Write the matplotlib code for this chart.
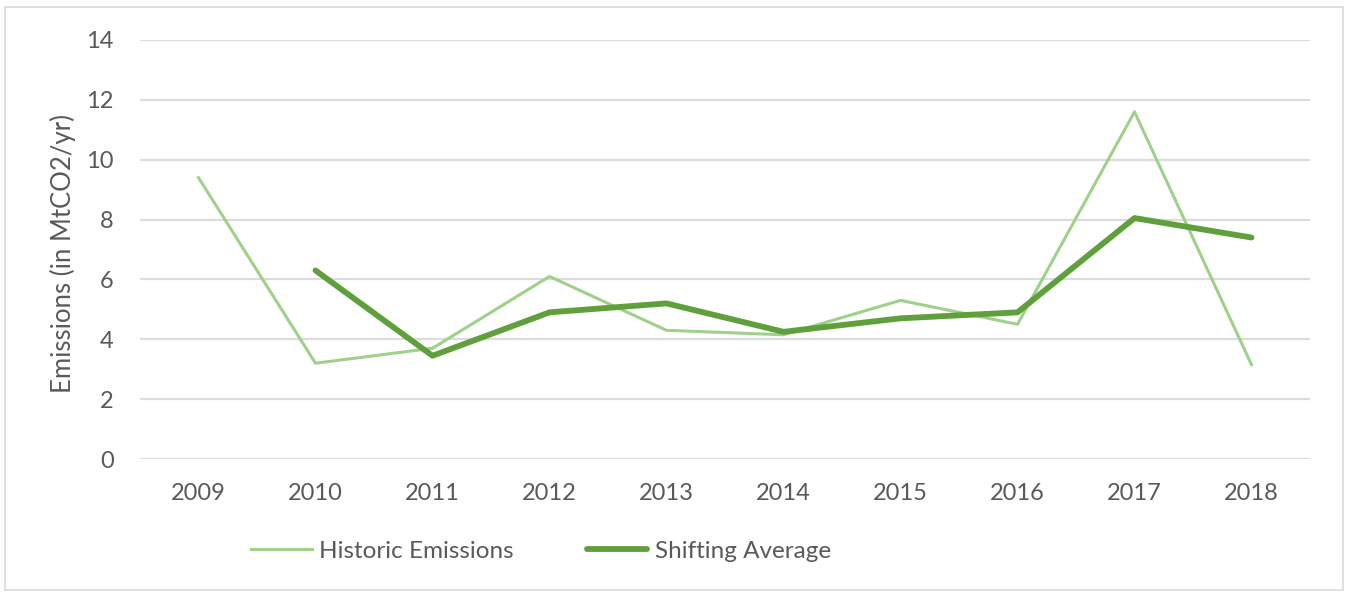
import numpy as np
import matplotlib.pyplot as plt
from matplotlib.patches import Rectangle

years = ["2009", "2010", "2011", "2012", "2013", "2014", "2015", "2016", "2017", "2018"]
historic = [9.4, 3.2, 3.7, 6.1, 4.3, 4.15, 5.3, 4.5, 11.6, 3.15]
shifting = [np.nan, 6.3, 3.45, 4.9, 5.2, 4.25, 4.7, 4.9, 8.05, 7.4]

plt.rcParams['font.family'] = ['Lato', 'DejaVu Sans']

fig = plt.figure(figsize=(13.48, 5.92), dpi=100)
ax = fig.add_axes([140/1348, 1 - 459/592, 1170/1348, 419/592])

x = np.arange(len(years))
ax.plot(x, historic, color='#9fd18a', lw=2.2, label='Historic Emissions')
ax.plot(x, shifting, color='#5fa03c', lw=4.2, label='Shifting Average', solid_capstyle='round')

ax.set_xlim(-0.5, len(years) - 0.5)
ax.set_ylim(0, 14)
ax.set_yticks(range(0, 15, 2))
ax.set_xticks(x)
ax.set_xticklabels(years)
ax.grid(axis='y', color='#dcdcdc', lw=1.6)
ax.set_axisbelow(True)
for s in ax.spines.values():
    s.set_visible(False)
ax.tick_params(axis='both', length=0, labelsize=17, colors='#595959')
ax.tick_params(axis='x', pad=17)
ax.tick_params(axis='y', pad=19)
ax.set_ylabel('Emissions (in MtCO2/yr)', fontsize=18.5, color='#595959')
ax.yaxis.set_label_coords(-0.055, 0.49)

leg = fig.legend(loc='center', bbox_to_anchor=(541/1348, 1 - 551/592), ncol=2, frameon=False,
                 fontsize=17.5, labelcolor='#595959', handlelength=2.5, handletextpad=0.3,
                 columnspacing=3.0)

fig.patches.append(Rectangle((5/1348, 2/592), 1338/1348, 583/592, transform=fig.transFigure,
                             fill=False, edgecolor='#d9d9d9', lw=1.2))

plt.savefig('out.png', dpi=100)
